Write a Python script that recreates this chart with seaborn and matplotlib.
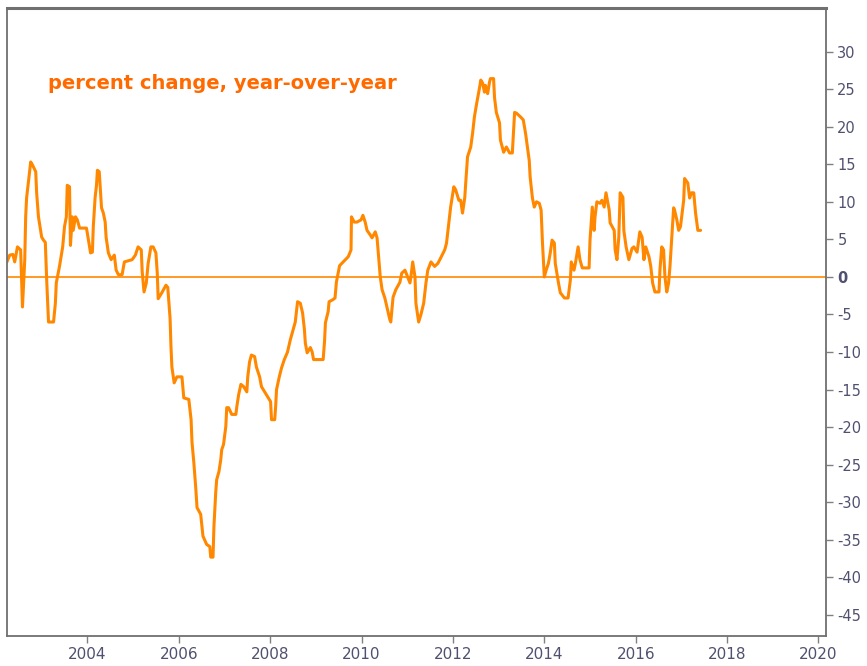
import matplotlib
matplotlib.use("Agg")
import matplotlib.pyplot as plt
import seaborn as sns
import pandas as pd

# year-over-year percent change
years = [
    2002.24, 2002.30, 2002.37, 2002.41, 2002.47, 2002.54, 2002.58, 2002.63, 2002.65, 2002.67,
    2002.76, 2002.80, 2002.87, 2002.89, 2002.93, 2003.00, 2003.04, 2003.08, 2003.11, 2003.15,
    2003.26, 2003.30, 2003.32, 2003.39, 2003.46, 2003.50, 2003.54, 2003.56, 2003.61, 2003.63,
    2003.67, 2003.69, 2003.74, 2003.78, 2003.83, 2003.98, 2004.00, 2004.07, 2004.11, 2004.13,
    2004.17, 2004.20, 2004.22, 2004.26, 2004.28, 2004.31, 2004.35, 2004.39, 2004.41, 2004.46,
    2004.52, 2004.59, 2004.63, 2004.68, 2004.76, 2004.81, 2004.98, 2005.05, 2005.11, 2005.18,
    2005.20, 2005.24, 2005.29, 2005.33, 2005.39, 2005.44, 2005.50, 2005.53, 2005.55, 2005.63,
    2005.72, 2005.76, 2005.81, 2005.83, 2005.85, 2005.90, 2005.96, 2006.07, 2006.11, 2006.22,
    2006.27, 2006.29, 2006.33, 2006.37, 2006.40, 2006.48, 2006.53, 2006.61, 2006.68, 2006.70,
    2006.75, 2006.77, 2006.81, 2006.83, 2006.88, 2006.92, 2006.94, 2006.98, 2007.03, 2007.05,
    2007.09, 2007.16, 2007.25, 2007.27, 2007.31, 2007.36, 2007.42, 2007.49, 2007.51, 2007.55,
    2007.59, 2007.66, 2007.70, 2007.77, 2007.81, 2007.88, 2007.94, 2008.01, 2008.03, 2008.10,
    2008.12, 2008.14, 2008.20, 2008.25, 2008.31, 2008.38, 2008.44, 2008.49, 2008.55, 2008.60,
    2008.66, 2008.71, 2008.75, 2008.77, 2008.81, 2008.88, 2008.92, 2008.95, 2009.16, 2009.19,
    2009.21, 2009.27, 2009.29, 2009.38, 2009.42, 2009.45, 2009.52, 2009.71, 2009.77, 2009.78,
    2009.84, 2009.90, 2009.99, 2010.03, 2010.08, 2010.12, 2010.19, 2010.23, 2010.30, 2010.34,
    2010.38, 2010.41, 2010.45, 2010.51, 2010.56, 2010.62, 2010.64, 2010.69, 2010.75, 2010.84,
    2010.88, 2010.95, 2010.99, 2011.06, 2011.08, 2011.12, 2011.17, 2011.19, 2011.25, 2011.30,
    2011.36, 2011.41, 2011.45, 2011.52, 2011.60, 2011.67, 2011.73, 2011.82, 2011.86, 2011.91,
    2011.95, 2012.02, 2012.06, 2012.13, 2012.17, 2012.21, 2012.26, 2012.28, 2012.32, 2012.39,
    2012.43, 2012.47, 2012.52, 2012.58, 2012.61, 2012.65, 2012.69, 2012.71, 2012.76, 2012.80,
    2012.82, 2012.89, 2012.91, 2012.95, 2013.02, 2013.04, 2013.11, 2013.17, 2013.24, 2013.30,
    2013.35, 2013.39, 2013.48, 2013.54, 2013.59, 2013.63, 2013.67, 2013.69, 2013.74, 2013.78,
    2013.83, 2013.89, 2013.93, 2013.96, 2014.00, 2014.04, 2014.09, 2014.13, 2014.17, 2014.22,
    2014.24, 2014.31, 2014.35, 2014.44, 2014.52, 2014.57, 2014.59, 2014.65, 2014.68, 2014.74,
    2014.78, 2014.83, 2014.98, 2015.00, 2015.05, 2015.09, 2015.11, 2015.15, 2015.22, 2015.26,
    2015.31, 2015.35, 2015.42, 2015.44, 2015.53, 2015.55, 2015.59, 2015.63, 2015.66, 2015.72,
    2015.74, 2015.79, 2015.85, 2015.92, 2015.96, 2016.03, 2016.09, 2016.14, 2016.18, 2016.22,
    2016.29, 2016.33, 2016.37, 2016.42, 2016.51, 2016.53, 2016.57, 2016.61, 2016.64, 2016.68,
    2016.72, 2016.75, 2016.79, 2016.83, 2016.85, 2016.90, 2016.94, 2016.98, 2017.05, 2017.07,
    2017.14, 2017.18, 2017.22, 2017.27, 2017.31, 2017.36, 2017.42,
]
pct_change = [
    2.0, 2.9, 3.0, 2.0, 4.0, 3.6, -4.0, 2.3, 8.0, 10.5,
    15.3, 14.9, 14.0, 11.2, 8.0, 5.3, 4.9, 4.6, -0.4, -6.0,
    -6.0, -3.5, -0.8, 1.4, 4.0, 6.7, 8.0, 12.2, 12.0, 4.2,
    8.0, 6.2, 8.0, 7.6, 6.5, 6.5, 5.8, 3.2, 3.3, 6.7,
    10.6, 12.2, 14.2, 14.0, 12.0, 9.2, 8.5, 7.3, 5.3, 3.2,
    2.3, 2.9, 0.9, 0.3, 0.3, 2.0, 2.3, 2.9, 4.0, 3.6,
    0.7, -2.0, -0.8, 1.8, 4.0, 4.0, 3.2, 0.5, -2.9, -2.1,
    -1.1, -1.4, -5.5, -9.3, -12.0, -14.1, -13.3, -13.3, -16.1, -16.3,
    -19.0, -22.0, -24.7, -27.9, -30.7, -31.6, -34.5, -35.6, -35.9, -37.3,
    -37.3, -33.2, -28.6, -27.0, -25.9, -24.3, -23.0, -22.3, -19.9, -17.4,
    -17.4, -18.3, -18.3, -17.3, -15.7, -14.3, -14.6, -15.3, -13.3, -11.3,
    -10.4, -10.6, -12.0, -13.3, -14.6, -15.3, -15.9, -16.6, -19.0, -19.0,
    -17.3, -15.0, -13.3, -12.1, -11.0, -10.0, -8.4, -7.3, -6.0, -3.3,
    -3.5, -4.8, -7.0, -8.8, -10.1, -9.4, -10.0, -11.0, -11.0, -8.6,
    -6.1, -4.6, -3.3, -3.0, -2.8, -0.7, 1.5, 2.7, 3.6, 8.0,
    7.3, 7.3, 7.6, 8.2, 7.3, 6.2, 5.6, 5.2, 6.0, 5.2,
    2.3, 0.0, -1.7, -2.8, -4.1, -5.7, -6.0, -2.7, -1.7, -0.7,
    0.5, 0.9, 0.3, -0.8, 0.0, 2.0, 0.0, -3.5, -6.0, -5.0,
    -3.5, -0.8, 0.9, 2.0, 1.4, 1.8, 2.5, 3.6, 4.5, 7.2,
    9.3, 12.0, 11.6, 10.2, 10.2, 8.5, 10.6, 12.5, 16.0, 17.3,
    19.1, 21.3, 23.1, 25.1, 26.2, 25.8, 24.6, 25.5, 24.4, 25.9,
    26.4, 26.4, 23.9, 21.9, 20.5, 18.2, 16.6, 17.3, 16.5, 16.5,
    21.9, 21.8, 21.3, 20.9, 19.1, 17.3, 15.5, 13.3, 10.5, 9.3,
    10.0, 9.8, 8.9, 4.5, 0.0, 0.9, 1.8, 3.2, 4.9, 4.5,
    1.8, -0.8, -2.1, -2.8, -2.8, -0.4, 2.0, 0.9, 1.8, 4.0,
    2.3, 1.2, 1.2, 4.9, 9.3, 6.2, 8.0, 10.0, 9.8, 10.2,
    9.3, 11.2, 8.9, 7.2, 6.2, 3.6, 2.3, 5.3, 11.2, 10.6,
    6.2, 4.0, 2.3, 3.8, 4.0, 3.3, 6.0, 5.3, 2.3, 4.0,
    2.7, 1.4, -0.8, -2.0, -2.0, 0.9, 4.0, 3.6, 0.0, -2.0,
    -0.8, 1.4, 5.2, 9.2, 8.9, 7.6, 6.2, 6.7, 10.2, 13.1,
    12.5, 10.5, 11.2, 11.2, 8.5, 6.2, 6.2,
]
y_ticks = list(range(-45, 31, 5))
x_ticks = list(range(2004, 2021, 2))
title_text = "percent change, year-over-year"

df = pd.DataFrame({"year": years, "pct": pct_change})

sns.set_style("white")
plt.rcParams["font.family"] = ["DejaVu Sans"]
plt.rcParams["axes.unicode_minus"] = False

fig = plt.figure(figsize=(8.67, 6.66), dpi=100)
ax = fig.add_axes([0.008, 0.045, 0.945, 0.943])

line_col = "#FF8800"
sns.lineplot(data=df, x="year", y="pct", color=line_col, linewidth=2.2, ax=ax)
ax.axhline(0, color=line_col, linewidth=1.2, zorder=1)

ax.set_xlim(2002.24, 2020.17)
ax.set_ylim(-47.8, 35.8)
ax.set_xlabel("")
ax.set_ylabel("")

ax.yaxis.tick_right()
ax.set_yticks(y_ticks)
ax.set_xticks(x_ticks)
ax.tick_params(axis="both", direction="out", length=5, width=1, color="#808080",
               labelcolor="#505070", labelsize=10.5, left=False, bottom=True, right=True)
ax.tick_params(axis="y", pad=3)
ax.tick_params(axis="x", pad=3)
for lab in ax.get_xticklabels():
    lab.set_family(["Liberation Sans Narrow", "DejaVu Sans"])
    lab.set_fontsize(11)
for lab in ax.get_yticklabels():
    if lab.get_text() in ("0", "\u22120"):
        lab.set_fontweight("bold")

for sp in ax.spines.values():
    sp.set_visible(True)
    sp.set_color("#707070")
    sp.set_linewidth(1.3)
ax.spines["top"].set_linewidth(2.2)

ax.text(0.05, 0.879, title_text, transform=ax.transAxes, color="#FF6A00",
        fontsize=14, fontweight="bold", va="center", ha="left")

fig.savefig("out.png", dpi=100)
